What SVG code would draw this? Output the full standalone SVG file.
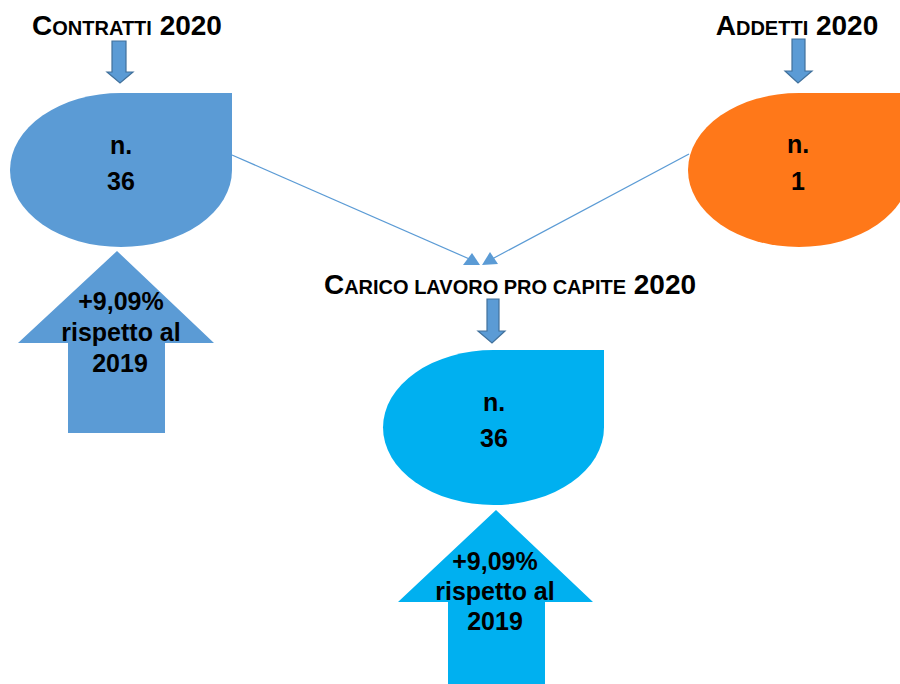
<svg xmlns="http://www.w3.org/2000/svg" width="900" height="684" viewBox="0 0 900 684">
<style>
text{font-family:"Liberation Sans",Arial,sans-serif;font-weight:bold;fill:#000;text-anchor:middle}
.t{font-size:28px}
.sc{font-size:20px}
.v{font-size:25px}
.sa{fill:#5B9BD5;stroke:#41719C;stroke-width:1.2}
.cl{stroke:#5B9BD5;stroke-width:1.2;fill:none}
.ch{fill:#5B9BD5}
</style>
<rect width="900" height="684" fill="#fff"/>

<g id="contratti">
<text class="t" x="127" y="35">C<tspan class="sc">ONTRATTI</tspan> 2020</text>
<polygon class="sa" points="112,41 126,41 126,72 133,72 120,83 107,72 112,72"/>
<path d="M121 93 L232 93 L232 170 A111 77 0 0 1 121 247 A111 77 0 0 1 10 170 A111 77 0 0 1 121 93 Z" fill="#5B9BD5"/>
<text class="v" x="121" y="154">n.</text>
<text class="v" x="121" y="190">36</text>
</g>

<g id="contratti-var">
<polygon points="117,251 214,343 165,343 165,433 68,433 68,343 18,343" fill="#5B9BD5"/>
<text class="v" x="121" y="310">+9,09%</text>
<text class="v" x="121" y="341">rispetto al</text>
<text class="v" x="120" y="372">2019</text>
</g>

<g id="addetti">
<text class="t" x="797" y="35">A<tspan class="sc">DDETTI</tspan> 2020</text>
<polygon class="sa" points="792,39 805,39 805,71 812,71 798,83 785,71 792,71"/>
<path d="M799 93 L910 93 L910 170 A111 77 0 0 1 799 247 A111 77 0 0 1 688 170 A111 77 0 0 1 799 93 Z" fill="#FF7819"/>
<text class="v" x="798" y="153">n.</text>
<text class="v" x="798" y="190">1</text>
</g>

<g id="carico">
<text class="t" x="510" y="294">C<tspan class="sc">ARICO LAVORO PRO CAPITE</tspan> 2020</text>
<polygon class="sa" points="487,299 499,299 499,331 505,331 492,343 478,331 487,331"/>
<path d="M493.5 350 L604 350 L604 427.5 A110.5 77.5 0 0 1 493.5 505 A110.5 77.5 0 0 1 383 427.5 A110.5 77.5 0 0 1 493.5 350 Z" fill="#00B0F0"/>
<text class="v" x="494" y="411">n.</text>
<text class="v" x="494" y="447">36</text>
</g>

<g id="carico-var">
<polygon points="496,510 593,602 545,602 545,684 448,684 448,602 398,602" fill="#00B0F0"/>
<text class="v" x="495" y="570">+9,09%</text>
<text class="v" x="495" y="600">rispetto al</text>
<text class="v" x="495" y="630">2019</text>
</g>

<g id="connectors">
<line class="cl" x1="232" y1="155" x2="474" y2="261"/>
<polygon class="ch" points="463,265 480,265 472,253"/>
<line class="cl" x1="689" y1="154" x2="492" y2="259"/>
<polygon class="ch" points="482,265 498,264 490,252"/>
</g>
</svg>
